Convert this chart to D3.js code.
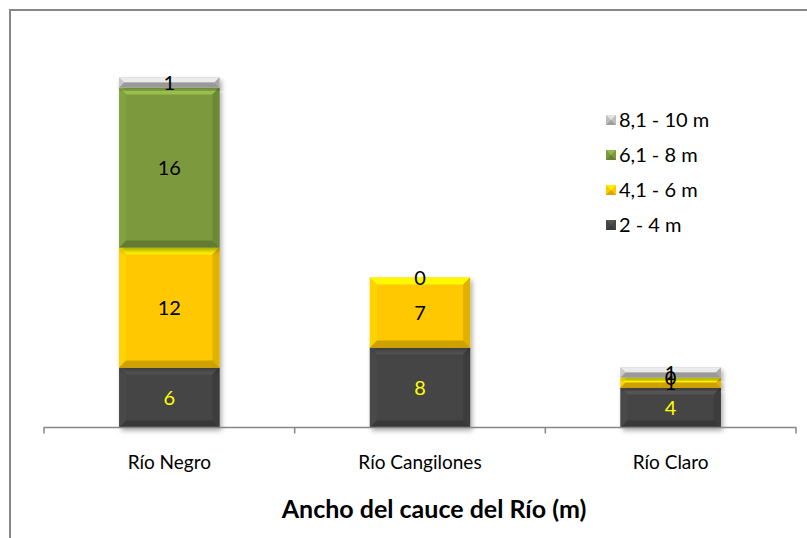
<!DOCTYPE html>
<html><head><meta charset="utf-8">
<script src="https://cdn.jsdelivr.net/npm/d3@7"></script>
<style>body{margin:0;background:#fff;} svg{display:block;font-family:Lato,"Open Sans",sans-serif;}</style>
</head><body>
<svg id="chart" width="807" height="538"></svg>
<script>
const categories = ["Río Negro", "Río Cangilones", "Río Claro"];
const seriesNames = ["2 - 4 m", "4,1 - 6 m", "6,1 - 8 m", "8,1 - 10 m"];
const s2to4 = [6, 8, 4];
const s4to6 = [12, 7, 1];
const s6to8 = [16, 0, 0];
const s8to10 = [1, null, 1];
const xTitle = "Ancho del cauce del Río (m)";

const seriesValues = [s2to4, s4to6, s6to8, s8to10];
const colors = ["#454545", "#FFC800", "#7B9A3E", "#BEBEBE"];
const labelColors = ["#FFFF00", "#000", "#000", "#000"];

const svg = d3.select("#chart");
const defs = svg.append("defs");
const f = defs.append("filter").attr("id","sh").attr("x","-20%").attr("y","-20%").attr("width","150%").attr("height","150%");
f.append("feDropShadow").attr("dx",2).attr("dy",3).attr("stdDeviation",2.5).attr("flood-color","#000").attr("flood-opacity",0.35);

// outer border
svg.append("path").attr("d","M10,540 L10,10 L810,10").attr("fill","none").attr("stroke","#868686").attr("stroke-width",2);

const x = d3.scaleBand().domain(categories).range([44, 796]).paddingInner(0.6).paddingOuter(0.3);
const y = d3.scaleLinear().domain([0, 40]).range([427.5, 27.5]);

const data = categories.map((c, i) => {
  const o = {cat: c};
  seriesNames.forEach((s, j) => o[s] = seriesValues[j][i] == null ? 0 : seriesValues[j][i]);
  return o;
});
const stack = d3.stack().keys(seriesNames)(data);

const gBars = svg.append("g");
stack.forEach((layer, j) => {
  layer.forEach((d, i) => {
    const v = seriesValues[j][i];
    if (v == null || v === 0) return;
    const x0 = x(categories[i]), w = x.bandwidth();
    const yt = y(d[1]), yb = y(d[0]), h = yb - yt;
    const g = gBars.append("g");
    const base = d3.color(colors[j]);
    g.append("rect").attr("x", x0).attr("y", yt).attr("width", w).attr("height", h).attr("fill", base).attr("filter","url(#sh)");
    const b = Math.min(7, h / 2);
    const poly = (pts, col) => g.append("polygon").attr("points", pts.map(p => p.join(",")).join(" ")).attr("fill", col);
    poly([[x0,yt],[x0+w,yt],[x0+w-b,yt+b],[x0+b,yt+b]], base.brighter(0.6));
    poly([[x0,yt],[x0+b,yt+b],[x0+b,yb-b],[x0,yb]], base.brighter(0.15));
    poly([[x0+w,yt],[x0+w,yb],[x0+w-b,yb-b],[x0+w-b,yt+b]], base.darker(0.35));
    poly([[x0,yb],[x0+b,yb-b],[x0+w-b,yb-b],[x0+w,yb]], base.darker(0.6));
  });
});

// axis
const gAxis = svg.append("g").attr("transform", "translate(0,427.5)");
gAxis.append("path").attr("d", "M44,6 L44,0 L796,0 L796,6").attr("fill","none").attr("stroke","#868686").attr("stroke-width",1.5);
const bounds = [x.step() * 1 + 44, x.step() * 2 + 44];
gAxis.selectAll("line.tk").data(bounds).join("line").attr("x1", d => d).attr("x2", d => d).attr("y1", 0).attr("y2", 6).attr("stroke","#868686").attr("stroke-width",1.5);
gAxis.selectAll("text.cl").data(categories).join("text")
  .attr("x", d => x(d) + x.bandwidth() / 2).attr("y", 41).attr("text-anchor","middle")
  .attr("font-size", 19).attr("fill","#000").text(d => d);

// data labels
const gLab = svg.append("g");
stack.forEach((layer, j) => {
  layer.forEach((d, i) => {
    const v = seriesValues[j][i];
    if (v == null) return;
    gLab.append("text").attr("x", x(categories[i]) + x.bandwidth() / 2)
      .attr("y", (y(d[0]) + y(d[1])) / 2).attr("dy", "0.36em").attr("text-anchor","middle")
      .attr("font-size", 20).attr("fill", labelColors[j]).text(v);
  });
});

// legend
const legOrder = [3, 2, 1, 0];
const gLeg = svg.append("g");
legOrder.forEach((j, k) => {
  const cy = 120 + k * 35;
  const base = d3.color(colors[j]);
  const lx = 606, ly = cy - 5, s = 10;
  gLeg.append("rect").attr("x", lx).attr("y", ly).attr("width", s).attr("height", s).attr("fill", base);
  gLeg.append("polygon").attr("points", `${lx},${ly} ${lx+s},${ly} ${lx+s/2},${ly+s/2}`).attr("fill", base.brighter(0.5));
  gLeg.append("polygon").attr("points", `${lx},${ly+s} ${lx+s},${ly+s} ${lx+s/2},${ly+s/2}`).attr("fill", base.darker(0.5));
  gLeg.append("text").attr("x", 619).attr("y", cy).attr("dy","0.36em").attr("font-size", 20).attr("fill","#000").text(seriesNames[j]);
});

// x title
svg.append("text").attr("x", 434).attr("y", 518).attr("text-anchor","middle")
  .attr("font-size", 25).attr("font-weight","bold").attr("fill","#000").text(xTitle);
</script>
</body></html>
